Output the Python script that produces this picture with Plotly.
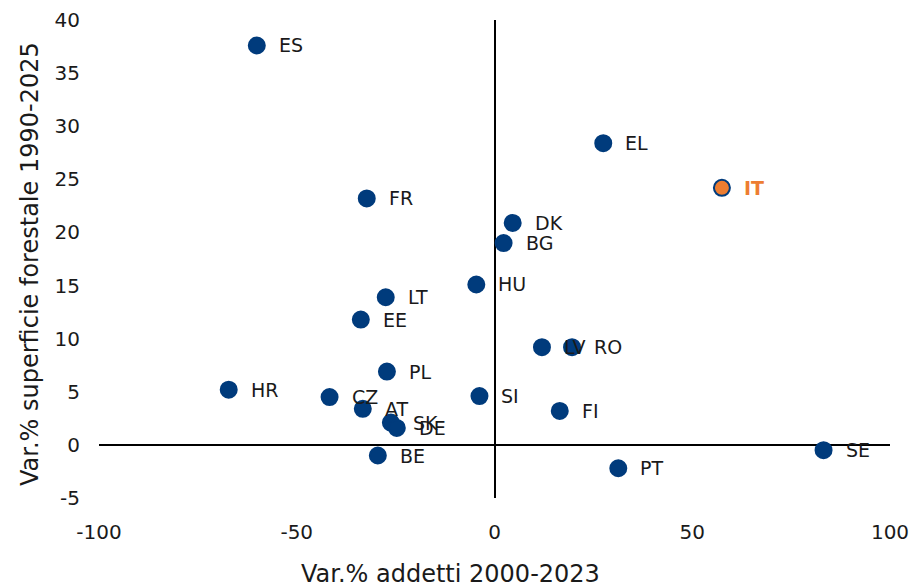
import plotly.graph_objects as go

countries = ["ES", "FR", "EL", "IT", "DK", "BG", "HU", "LT", "EE", "LV", "RO",
             "PL", "HR", "CZ", "AT", "SK", "DE", "SI", "FI", "BE", "PT", "SE"]
addetti = [-60.1, -32.3, 27.5, 57.5, 4.6, 2.3, -4.6, -27.5, -33.8, 12.0, 19.6,
           -27.2, -67.2, -41.7, -33.3, -26.2, -24.7, -3.8, 16.5, -29.5, 31.3, 83.2]
superficie = [37.6, 23.2, 28.4, 24.2, 20.9, 19.0, 15.1, 13.9, 11.8, 9.2, 9.2,
              6.9, 5.2, 4.5, 3.4, 2.1, 1.6, 4.6, 3.2, -1.0, -2.2, -0.5]

x_ticks = [-100, -50, 0, 50, 100]
y_ticks = [-5, 0, 5, 10, 15, 20, 25, 30, 35, 40]

NAVY = "#003b7c"
ORANGE = "#ed7d31"
FONT = "DejaVu Sans"

colors = [ORANGE if c == "IT" else NAVY for c in countries]

fig = go.Figure()
fig.add_trace(go.Scatter(
    x=addetti, y=superficie, mode="markers",
    marker=dict(size=16, color=colors, line=dict(color=NAVY, width=2)),
    hovertext=countries, showlegend=False,
))

for c, xv, yv in zip(countries, addetti, superficie):
    it = c == "IT"
    fig.add_annotation(
        x=xv, y=yv, text=f"<b>{c}</b>" if it else c, showarrow=False,
        xanchor="left", yanchor="middle", xshift=20,
        font=dict(size=19, color=ORANGE if it else "#1a1a1a", family=FONT),
    )

# axis titles
fig.add_annotation(x=0.445, y=-0.16, xref="paper", yref="paper",
                   text="Var.% addetti 2000-2023", showarrow=False,
                   xanchor="center", yanchor="middle",
                   font=dict(size=24, color="#1a1a1a", family=FONT))
fig.add_annotation(x=-0.087, y=0.49, xref="paper", yref="paper",
                   text="Var.% superficie forestale 1990-2025", showarrow=False,
                   textangle=-90, xanchor="center", yanchor="middle",
                   font=dict(size=24, color="#1a1a1a", family=FONT))

fig.update_layout(
    width=913, height=588,
    margin=dict(l=99, r=23, t=20, b=90),
    plot_bgcolor="white", paper_bgcolor="white",
    font=dict(family=FONT, size=20, color="#1a1a1a"),
    xaxis=dict(range=[-100, 100], tickvals=x_ticks,
               ticktext=[str(v) for v in x_ticks], showgrid=False,
               zeroline=True, zerolinecolor="black", zerolinewidth=2,
               showline=False, ticks="", ticklabelstandoff=20,
               automargin=False),
    yaxis=dict(range=[-5, 40], tickvals=y_ticks,
               ticktext=[str(v) for v in y_ticks], showgrid=False,
               zeroline=True, zerolinecolor="black", zerolinewidth=2,
               showline=False, ticks="", ticklabelstandoff=18,
               automargin=False),
    yaxis2=dict(range=[-5, 40], tickvals=y_ticks, overlaying="y",
                anchor="free", position=0.5, side="left",
                showgrid=False, zeroline=False, showline=False,
                ticks="outside", ticklen=7, tickwidth=2, tickcolor="black",
                showticklabels=False, automargin=False),
)

# page body has a default 8px margin; drop it so the figure sits at 0,0
fig.write_html("out.html", config={"displayModeBar": False},
               post_script="document.body.style.margin='0';")
